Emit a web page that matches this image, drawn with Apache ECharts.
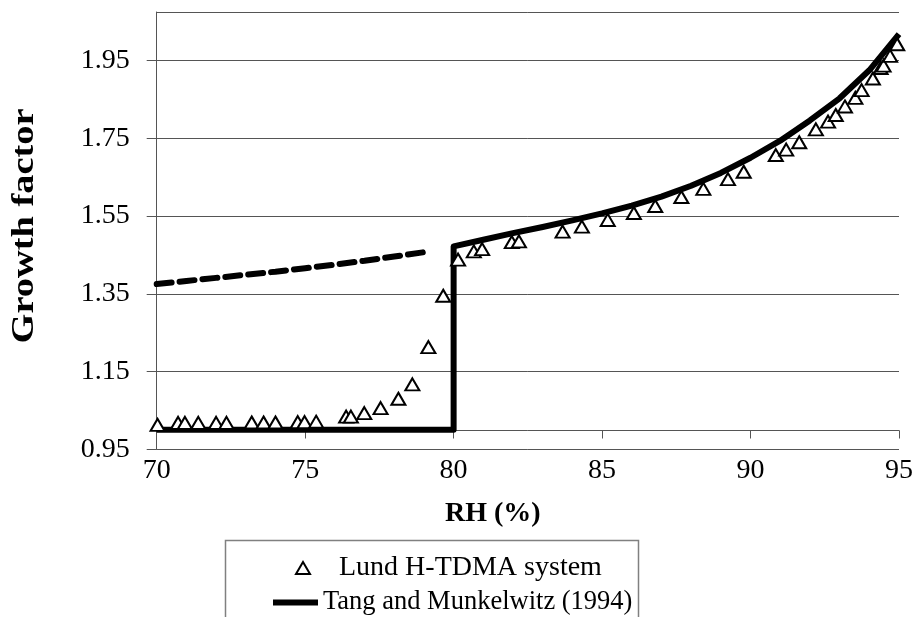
<!DOCTYPE html>
<html>
<head>
<meta charset="utf-8">
<script src="https://cdn.jsdelivr.net/npm/echarts@6/dist/echarts.min.js"></script>
<style>
html,body{margin:0;padding:0;background:#fff;}
#chart{width:916px;height:617px;}
</style>
</head>
<body>
<div id="chart"></div>
<script>
// Measured data (Lund H-TDMA system)
const lundRH = [70.03, 70.72, 70.95, 71.4, 72.0, 72.35, 73.2, 73.6, 74.0, 74.75, 74.98, 75.37,
  76.38, 76.54, 76.99, 77.54, 78.14, 78.61, 79.15, 79.65, 80.15, 80.68, 80.96, 81.96, 82.2,
  83.67, 84.32, 85.19, 86.07, 86.79, 87.67, 88.41, 89.24, 89.77, 90.85, 91.2, 91.64, 92.2,
  92.61, 92.87, 93.18, 93.53, 93.74, 94.12, 94.38, 94.48, 94.7, 94.94];
const lundGF = [1.013, 1.018, 1.018, 1.018, 1.018, 1.018, 1.019, 1.019, 1.019, 1.02, 1.02, 1.021,
  1.034, 1.034, 1.043, 1.056, 1.080, 1.117, 1.213, 1.345, 1.438, 1.459, 1.465, 1.483, 1.485,
  1.510, 1.523, 1.540, 1.558, 1.576, 1.599, 1.620, 1.645, 1.664, 1.707, 1.721, 1.740, 1.773,
  1.793, 1.810, 1.832, 1.854, 1.874, 1.904, 1.931, 1.937, 1.962, 1.992];

// Tang and Munkelwitz (1994) theory
const tangRH = [70, 80, 80, 81, 82, 83, 84, 85, 86, 87, 88, 89, 90, 91, 92, 93, 94, 95];
const tangGF = [1.0, 1.0, 1.472, 1.489, 1.506, 1.522, 1.539, 1.557, 1.577, 1.600, 1.628, 1.661, 1.700, 1.744, 1.796, 1.853, 1.925, 2.018];

// Metastable (dashed) branch
const dashRH = [70, 71, 72, 73, 74, 75, 76, 77, 78, 79];
const dashGF = [1.375, 1.383, 1.391, 1.399, 1.407, 1.416, 1.425, 1.435, 1.446, 1.457];

const xTicks = [70, 75, 80, 85, 90, 95];
const yTicks = [0.95, 1.15, 1.35, 1.55, 1.75, 1.95];

const zip = (a, b) => a.map((v, i) => [v, b[i]]);
const FONT = 'Liberation Serif';
const AX = '#555';

const chart = echarts.init(document.getElementById('chart'));
chart.setOption({
  animation: false,
  backgroundColor: '#fff',
  textStyle: { fontFamily: FONT, color: '#000' },
  grid: { left: 156.7, right: 14.3, top: 12, bottom: 167.7, containLabel: false },
  xAxis: [
    {
      type: 'value', min: xTicks[0], max: xTicks[xTicks.length - 1], interval: 5,
      position: 'bottom',
      axisLine: { show: false }, axisTick: { show: false }, splitLine: { show: false },
      axisLabel: { fontFamily: FONT, fontSize: 28, color: '#000', margin: 7 },
      name: 'RH (%)', nameLocation: 'middle', nameGap: 50,
      nameTextStyle: { fontFamily: FONT, fontSize: 28, fontWeight: 'bold', color: '#000', padding: [0, 70, 0, 0] }
    },
    {
      type: 'value', min: xTicks[0], max: xTicks[xTicks.length - 1], interval: 5,
      position: 'bottom', offset: -18.8,
      axisLine: { show: true, lineStyle: { color: AX, width: 1 } },
      axisTick: { show: true, inside: false, length: 8, lineStyle: { color: AX, width: 1 } },
      axisLabel: { show: false }, splitLine: { show: false }
    }
  ],
  yAxis: {
    type: 'value', min: yTicks[0], max: 2.075, interval: 0.2,
    axisLine: { show: true, lineStyle: { color: AX, width: 1 } },
    axisTick: { show: true, inside: false, length: 10, lineStyle: { color: AX, width: 1 } },
    axisLabel: { fontFamily: FONT, fontSize: 28, color: '#000', margin: 27, showMaxLabel: false,
      formatter: v => v.toFixed(2) },
    splitLine: { show: true, lineStyle: { color: AX, width: 1 } }
  },
  legend: [
    {
      data: ['Lund H-TDMA system'], orient: 'vertical', left: 295, top: 554, padding: 0,
      itemWidth: 14, itemHeight: 12,
      textStyle: { fontFamily: FONT, fontSize: 28, color: '#000', padding: [0, 0, 0, 24] }
    },
    {
      data: [{ name: 'Tang and Munkelwitz (1994)', icon: 'rect' }], orient: 'vertical', left: 273, top: 589, padding: 0,
      itemWidth: 45, itemHeight: 6, itemStyle: { color: '#000' },
      textStyle: { fontFamily: FONT, fontSize: 26.5, color: '#000' }
    }
  ],
  graphic: [
    { type: 'rect', left: 223, top: 538, shape: { width: 413, height: 120 },
      style: { fill: 'none', stroke: '#808080', lineWidth: 1.5 }, silent: true, z: -1 },
    { type: 'text', x: 25, y: 226, rotation: Math.PI / 2, scaleX: 1.2, scaleY: 1,
      style: { text: 'Growth factor', font: 'bold 32px "Liberation Serif"', fill: '#000',
        textAlign: 'center', textVerticalAlign: 'middle' }, silent: true }
  ],
  series: [
    {
      name: 'Metastable', type: 'line', xAxisIndex: 0, data: zip(dashRH, dashGF),
      symbol: 'none', smooth: false,
      lineStyle: { color: '#000', width: 6, type: [15, 8], cap: 'round' }, z: 2
    },
    {
      name: 'Tang and Munkelwitz (1994)', type: 'line', xAxisIndex: 0, data: zip(tangRH, tangGF),
      symbol: 'none', smooth: false,
      lineStyle: { color: '#000', width: 6, join: 'round' }, itemStyle: { color: '#000' }, z: 3
    },
    {
      name: 'Lund H-TDMA system', type: 'scatter', xAxisIndex: 0, data: zip(lundRH, lundGF),
      symbol: 'triangle', symbolSize: [14, 12],
      itemStyle: { color: '#fff', borderColor: '#000', borderWidth: 2, opacity: 1 }, z: 4
    }
  ]
});
</script>
</body>
</html>
